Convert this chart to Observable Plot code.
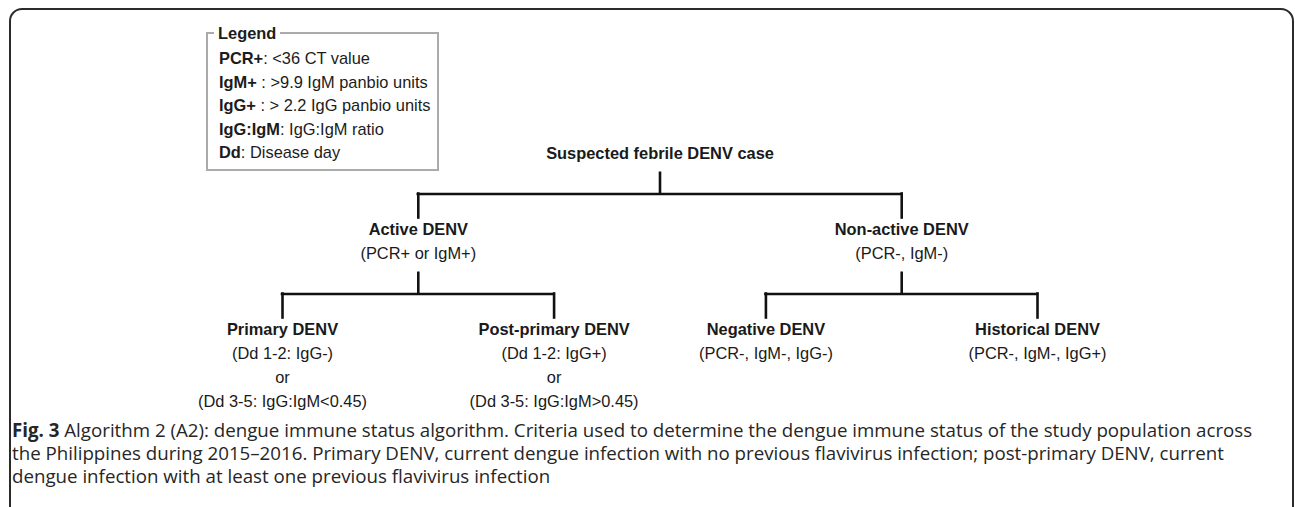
<!DOCTYPE html>
<html><head><meta charset="utf-8">
<script src="https://cdn.jsdelivr.net/npm/d3@7"></script>
<script src="https://cdn.jsdelivr.net/npm/@observablehq/plot@0.6"></script>
<style>
html,body{margin:0;padding:0;background:#fff;overflow:hidden;}
#wrap{position:relative;width:1295px;height:507px;overflow:hidden;background:#fff;}
#frame{position:absolute;left:9px;top:8px;width:1285px;height:620px;border:2px solid #2b2b2b;border-radius:13px 13px 0 0;box-sizing:border-box;}
#chart{position:absolute;left:0;top:0;}
#legend{position:absolute;left:206px;top:32px;width:233px;height:139px;border:2px solid #ababab;box-sizing:border-box;font-family:"Liberation Sans",Arial,sans-serif;font-size:16.4px;color:#1c1c1c;}
#legend .ttl{position:absolute;left:6px;top:-11px;background:#fff;padding:0 4px;font-weight:bold;line-height:20px;}
#legend .rows{position:absolute;left:11px;top:13px;line-height:23.5px;white-space:nowrap;}
#caption{position:absolute;left:12px;top:418px;font-family:"Open Sans",sans-serif;font-size:16.5px;line-height:23px;color:#262626;white-space:nowrap;}
#caption div{white-space:nowrap;}
</style>
</head><body>
<div id="wrap">
  <div id="frame"></div>
  <div id="chart"></div>
  <div id="legend"><span class="ttl"></span><div class="rows"></div></div>
  <div id="caption"></div>
</div>
<script>
// ---- data ----
const nodeIds = ["root","active","nonactive","primary","postprimary","negative","historical"];
const nodeParents = [null,"root","root","active","active","nonactive","nonactive"];
const nodeTitles = ["Suspected febrile DENV case","Active DENV","Non-active DENV","Primary DENV","Post-primary DENV","Negative DENV","Historical DENV"];
const nodeCriteria = [
  [],
  ["(PCR+ or IgM+)"],
  ["(PCR-, IgM-)"],
  ["(Dd 1-2: IgG-)","or","(Dd 3-5: IgG:IgM<0.45)"],
  ["(Dd 1-2: IgG+)","or","(Dd 3-5: IgG:IgM>0.45)"],
  ["(PCR-, IgM-, IgG-)"],
  ["(PCR-, IgM-, IgG+)"]
];
const legendTitle = "Legend";
const legendKeys = ["PCR+","IgM+","IgG+","IgG:IgM","Dd"];
const legendDefs = [": <36 CT value"," : >9.9 IgM panbio units"," : > 2.2 IgG panbio units",": IgG:IgM ratio",": Disease day"];
const captionLabel = "Fig. 3";
const captionLines = [
  " Algorithm 2 (A2): dengue immune status algorithm. Criteria used to determine the dengue immune status of the study population across",
  "the Philippines during 2015\u20132016. Primary DENV, current dengue infection with no previous flavivirus infection; post-primary DENV, current",
  "dengue infection with at least one previous flavivirus infection"
];

// ---- tree layout ----
const table = nodeIds.map((id,i)=>({id, parent: nodeParents[i], title: nodeTitles[i], criteria: nodeCriteria[i]}));
const root = d3.stratify().id(d=>d.id).parentId(d=>d.parent)(table);
d3.tree().nodeSize([1,1]).separation((a,b)=> a.parent===b.parent ? 1 : 0.78)(root);
const all = root.descendants();
const maxDepth = d3.max(all, d=>d.depth);
const LH = 24;
const titleY = [], stemTop = [], barY = [], dropBot = [];
titleY[0] = 153.5;
for (let d=0; d<=maxDepth; d++) {
  const lines = d3.max(all.filter(n=>n.depth===d), n=>n.data.criteria.length+1);
  const last = titleY[d] + (lines-1)*LH;
  stemTop[d] = last + 18; barY[d] = stemTop[d] + 22; dropBot[d] = barY[d] + 24;
  titleY[d+1] = dropBot[d] + 12;
}
const parents = all.filter(n=>n.children);
const kids = all.filter(n=>n.parent);
const critRows = all.flatMap(n=>n.data.criteria.map((t,i)=>({x:n.x, y:titleY[n.depth]+(i+1)*LH, text:t})));
const leaves = root.leaves();

const H = 420;
const chart = Plot.plot({
  width: 1295, height: H, margin: 0,
  style: {background:"transparent", fontFamily:"'Liberation Sans', Arial, sans-serif"},
  x: {domain: d3.extent(leaves, d=>d.x), range: [282, 1037], axis: null},
  y: {domain: [0, H], range: [0, H], axis: null},
  marks: [
    Plot.ruleX(parents, {x: d=>d.x, y1: d=>stemTop[d.depth], y2: d=>barY[d.depth], stroke:"#111", strokeWidth:2.6}),
    Plot.ruleY(parents, {y: d=>barY[d.depth], x1: d=>d3.min(d.children, c=>c.x), x2: d=>d3.max(d.children, c=>c.x), stroke:"#111", strokeWidth:2.6, strokeLinecap:"square"}),
    Plot.ruleX(kids, {x: d=>d.x, y1: d=>barY[d.parent.depth], y2: d=>dropBot[d.parent.depth], stroke:"#111", strokeWidth:2.6, strokeLinecap:"square"}),
    Plot.text(all, {x: d=>d.x, y: d=>titleY[d.depth], text: d=>d.data.title, fontWeight:"bold", fontSize:16.4, fill:"#1a1a1a"}),
    Plot.text(critRows, {x:"x", y:"y", text:"text", fontSize:16.4, fill:"#1a1a1a"})
  ]
});
document.getElementById("chart").append(chart);

// ---- legend ----
document.querySelector("#legend .ttl").textContent = legendTitle;
const rows = document.querySelector("#legend .rows");
legendKeys.forEach((k,i)=>{
  const div = document.createElement("div");
  const b = document.createElement("b"); b.textContent = k;
  div.append(b, document.createTextNode(legendDefs[i]));
  rows.append(div);
});

// ---- caption ----
const cap = document.getElementById("caption");
captionLines.forEach((t,i)=>{
  const div = document.createElement("div");
  if (i===0) { const b=document.createElement("b"); b.textContent=captionLabel; div.append(b); }
  div.append(document.createTextNode(t));
  cap.append(div);
});
// fit first caption line to the reference width
const first = cap.firstChild;
first.style.display = "inline-block";
const w = first.getBoundingClientRect().width;
const fs = 16.5 * 1241 / w;
cap.style.fontSize = fs.toFixed(2) + "px";
first.style.display = "block";
</script>
</body></html>
